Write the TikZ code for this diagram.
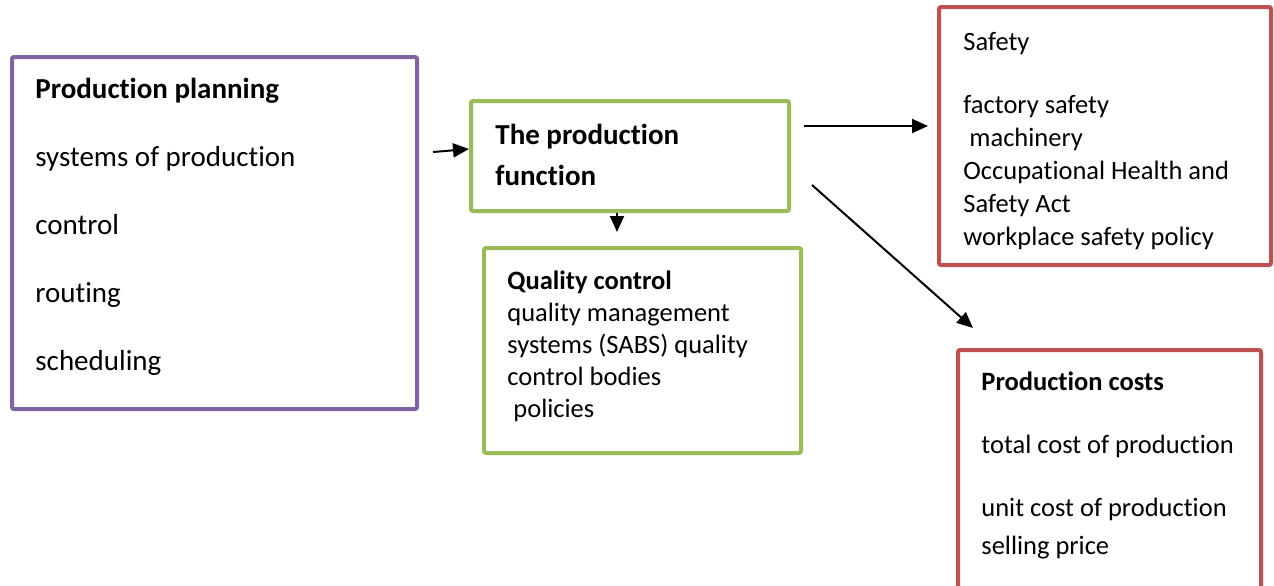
\documentclass[tikz,border=0pt]{standalone}
\usepackage{fontspec}
\setmainfont{Carlito}[Ligatures={NoCommon,NoRequired,NoContextual}]
\usepackage{tikz}
\usetikzlibrary{arrows.meta, positioning, calc, fit}
\definecolor{planpurple}{HTML}{8064A2}
\definecolor{funcgreen}{HTML}{9BBB59}
\definecolor{costred}{HTML}{C0504D}

\begin{document}
\begin{tikzpicture}[
    x=0.5pt, y=-0.5pt,
    box/.style={draw=#1, line width=2pt, rounded corners=1pt, inner sep=0pt},
    bigtxt/.style={anchor=north west, inner sep=0pt, align=left, font=\fontsize{14.5}{#1}\selectfont},
    smalltxt/.style={anchor=north west, inner sep=0pt, align=left, font=\fontsize{13.25}{#1}\selectfont},
    arr/.style={line width=1pt, -{Triangle[length=8pt,width=7pt]}}
]
\useasboundingbox (0,0) rectangle (1274,585);
\clip (0,0) rectangle (1274,585);

% boxes
\node[box=planpurple, fit={(12,57) (417,409)}] (plan) {};
\node[box=funcgreen, fit={(471,101) (789,211)}] (func) {};
\node[box=funcgreen, fit={(484,248) (801,453)}] (qual) {};
\node[box=costred, fit={(939,7) (1271,265)}] (safe) {};
\node[box=costred, fit={(958,350) (1261,620)}] (cost) {};

% texts
\node[bigtxt=34pt] (plantxt) at (35,78) {\textbf{Production planning}\\
    systems of production\\ control\\ routing\\ scheduling};
\node[bigtxt=20.5pt] (functxt) at (495,124) {\textbf{The production}\\ \textbf{function}};
\node[smalltxt=16pt] (qualtxt) at (507,270) {\textbf{Quality control}\\
    quality management\\ systems (SABS) quality\\ control bodies\\ \ policies};
\node[smalltxt=16.5pt] (safetxt) at (963,32) {Safety\\[15pt]
    factory safety\\ \ machinery\\ Occupational Health and\\ Safety Act\\ workplace safety policy};
\node[smalltxt=19pt] (costtxt) at (981,371) {\textbf{Production costs}\\[12.5pt]
    total cost of production\\[12.5pt] unit cost of production\\ selling price};

% arrows
\draw[arr] ([xshift=7pt,yshift=2pt]plan.east |- func.west) -- ([yshift=3.5pt]func.west);
\draw[arr] ([xshift=-6.5pt]func.south) -- ([xshift=-6.5pt,yshift=7pt]func.south |- qual.north);
\draw[arr] ([xshift=6.5pt,yshift=15pt]func.east) -- ([xshift=-4.5pt,yshift=5pt]safe.west);
\draw[arr] ([xshift=10.5pt,yshift=14pt]func.south east) -- ([xshift=8.5pt,yshift=10pt]cost.north west);

\end{tikzpicture}
\end{document}
